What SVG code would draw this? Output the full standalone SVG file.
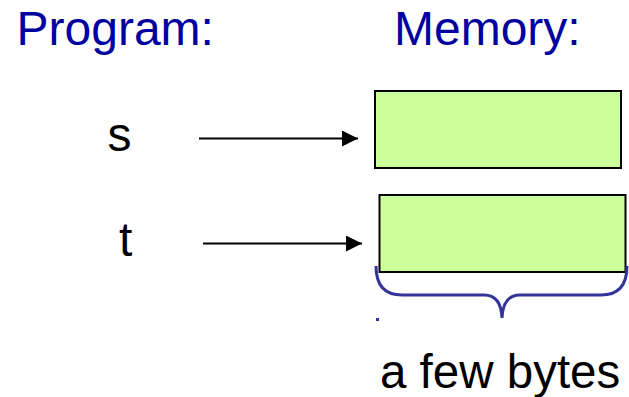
<svg xmlns="http://www.w3.org/2000/svg" width="629" height="397" viewBox="0 0 629 397">
  <style>
    .head { font-family: "Liberation Sans", Arial, sans-serif; font-size: 48px; fill: #0000a0; }
    .lbl { font-family: "Liberation Sans", Arial, sans-serif; font-size: 48px; fill: #000000; }
    .cell { fill: #ccff99; stroke: #000000; stroke-width: 2; }
    .link { stroke: #000000; stroke-width: 2; fill: none; }
    .brace { stroke: #333399; stroke-width: 3; fill: none; }
  </style>
  <defs>
    <marker id="arrow" markerUnits="userSpaceOnUse" markerWidth="16" markerHeight="16" refX="16" refY="8" orient="auto">
      <path d="M0,0 L16,8 L0,16 Z" fill="#000000"/>
    </marker>
  </defs>
  <rect width="629" height="397" fill="#ffffff"/>

  <g id="program-title"><text class="head" x="16.5" y="45">Program:</text></g>
  <g id="memory-title"><text class="head" x="394" y="45">Memory:</text></g>

  <g id="var-s"><text class="lbl" x="107.5" y="151">s</text></g>
  <g id="var-t"><text class="lbl" x="119" y="256">t</text></g>

  <g id="cell-s"><rect class="cell" x="375" y="91" width="246" height="77"/></g>
  <g id="cell-t"><rect class="cell" x="379.5" y="195" width="246" height="77"/></g>

  <g id="connectors">
    <line class="link" x1="199" y1="138.5" x2="358" y2="138.5" marker-end="url(#arrow)"/>
    <line class="link" x1="203" y1="243.5" x2="362" y2="243.5" marker-end="url(#arrow)"/>
  </g>

  <g id="size-brace">
    <path class="brace" d="M376,266 Q376,295 402,295 L484,295 Q501,295 502,318 Q503,295 520,295 L601,295 Q627,295 627,266"/>
    <rect x="376" y="318" width="3" height="3" fill="#333399"/>
    <text class="lbl" x="380" y="388" style="font-size:47.5px">a few bytes</text>
  </g>
</svg>
